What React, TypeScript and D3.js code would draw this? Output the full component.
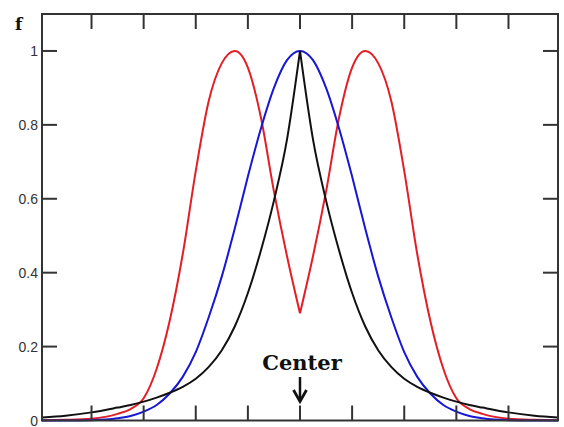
import React from "react";
import * as d3 from "d3";

// Sample positions along the horizontal axis (tick units, 0 = center)
const grid = [
  -4.95, -4.5, -4, -3.5, -3.25, -3, -2.75, -2.5, -2.25, -2, -1.75, -1.5, -1.25,
  -1, -0.75, -0.5, -0.25, 0, 0.25, 0.5, 0.75, 1, 1.25, 1.5, 1.75, 2, 2.25, 2.5,
  2.75, 3, 3.25, 3.5, 4, 4.5, 4.95,
];

// Double-peaked profile with a notch at the center
const redValues = [
  0.001, 0.002, 0.005, 0.018, 0.031, 0.06, 0.14, 0.27, 0.45, 0.675, 0.865,
  0.967, 1.0, 0.955, 0.82, 0.62, 0.445, 0.29, 0.445, 0.62, 0.82, 0.955, 1.0,
  0.967, 0.865, 0.675, 0.45, 0.27, 0.14, 0.06, 0.031, 0.018, 0.005, 0.002,
  0.001,
];

// Bell-shaped profile
const blueValues = [
  0, 0, 0.001, 0.006, 0.012, 0.024, 0.042, 0.073, 0.118, 0.185, 0.28, 0.39,
  0.52, 0.66, 0.79, 0.9, 0.975, 1.0, 0.975, 0.9, 0.79, 0.66, 0.52, 0.39, 0.28,
  0.185, 0.118, 0.073, 0.042, 0.024, 0.012, 0.006, 0.001, 0, 0,
];

// Sharp-peaked profile with long tails
const blackValues = [
  0.008, 0.013, 0.022, 0.035, 0.042, 0.051, 0.062, 0.075, 0.091, 0.113, 0.145,
  0.19, 0.255, 0.345, 0.46, 0.595, 0.76, 1.0, 0.76, 0.595, 0.46, 0.345, 0.255,
  0.19, 0.145, 0.113, 0.091, 0.075, 0.062, 0.051, 0.042, 0.035, 0.022, 0.013,
  0.008,
];

const xTicks = [-4, -3, -2, -1, 0, 1, 2, 3, 4];
const yTicks = [0.2, 0.4, 0.6, 0.8, 1];
const yTickLabels = ["0", "0.2", "0.4", "0.6", "0.8", "1"];
const yLabelValues = [0, 0.2, 0.4, 0.6, 0.8, 1];

const series = [
  { name: "red", values: redValues, color: "#e31e26", cusp: true },
  { name: "blue", values: blueValues, color: "#1616d4", cusp: false },
  { name: "black", values: blackValues, color: "#111111", cusp: true },
];

const W = 564;
const H = 427;
const left = 42;
const right = 558;
const top = 14;
const bottom = 420.5;
const tickLen = 15;
const axisColor = "#333";

export default function App() {
  const x = d3.scaleLinear().domain([-4.95, 4.95]).range([left, right]);
  const y = d3.scaleLinear().domain([0, 1.1]).range([bottom, top]);

  const line = d3
    .line<[number, number]>()
    .x((d) => x(d[0]))
    .y((d) => y(d[1]))
    .curve(d3.curveMonotoneX);

  const paths: { d: string; color: string; key: string }[] = [];
  series.forEach((s) => {
    const pts: [number, number][] = grid.map((g, i) => [g, s.values[i]]);
    if (s.cusp) {
      // split at the center so the pointed apex stays sharp
      const lh = pts.filter((p) => p[0] <= 0);
      const rh = pts.filter((p) => p[0] >= 0);
      paths.push({ d: line(lh) || "", color: s.color, key: s.name + "-l" });
      paths.push({ d: line(rh) || "", color: s.color, key: s.name + "-r" });
    } else {
      paths.push({ d: line(pts) || "", color: s.color, key: s.name });
    }
  });

  const cx = x(0);

  return (
    <svg
      width={W}
      height={H}
      style={{ position: "absolute", left: 0, top: 0, background: "#fff" }}
    >
      <rect x={0} y={0} width={W} height={H} fill="#fff" />

      {paths.map((p) => (
        <path
          key={p.key}
          d={p.d}
          fill="none"
          stroke={p.color}
          strokeWidth={2}
          strokeLinejoin="round"
        />
      ))}

      {/* frame */}
      <rect
        x={left}
        y={top}
        width={right - left}
        height={bottom - top}
        fill="none"
        stroke={axisColor}
        strokeWidth={2}
      />

      {/* inward ticks on top and bottom */}
      {xTicks.map((t) => (
        <g key={"xt" + t}>
          <line
            x1={x(t)}
            x2={x(t)}
            y1={bottom}
            y2={bottom - tickLen}
            stroke={axisColor}
            strokeWidth={2}
          />
          <line
            x1={x(t)}
            x2={x(t)}
            y1={top}
            y2={top + tickLen}
            stroke={axisColor}
            strokeWidth={2}
          />
        </g>
      ))}

      {/* inward ticks on left and right */}
      {yTicks.map((t) => (
        <g key={"yt" + t}>
          <line
            x1={left}
            x2={left + tickLen}
            y1={y(t)}
            y2={y(t)}
            stroke={axisColor}
            strokeWidth={2}
          />
          <line
            x1={right}
            x2={right - tickLen}
            y1={y(t)}
            y2={y(t)}
            stroke={axisColor}
            strokeWidth={2}
          />
        </g>
      ))}

      {yLabelValues.map((v, i) => (
        <text
          key={"yl" + v}
          x={38}
          y={y(v)}
          dy="0.36em"
          textAnchor="end"
          fontFamily="Liberation Sans, Arial, sans-serif"
          fontSize={14}
          fill="#333"
        >
          {yTickLabels[i]}
        </text>
      ))}

      <text
        x={15}
        y={30}
        fontFamily="DejaVu Serif, serif"
        fontWeight="bold"
        fontSize={17}
        fill="#111"
      >
        f
      </text>

      <text
        x={cx + 2}
        y={370}
        textAnchor="middle"
        fontFamily="DejaVu Serif, serif"
        fontWeight="bold"
        fontSize={21}
        fill="#111"
      >
        Center
      </text>

      {/* arrow pointing at the center */}
      <line x1={cx} x2={cx} y1={377} y2={399} stroke="#111" strokeWidth={2.5} />
      <path
        d={`M${cx - 6.5},${390} L${cx},${401.5} L${cx + 6.5},${390}`}
        fill="none"
        stroke="#111"
        strokeWidth={2.8}
        strokeLinejoin="miter"
      />
    </svg>
  );
}
